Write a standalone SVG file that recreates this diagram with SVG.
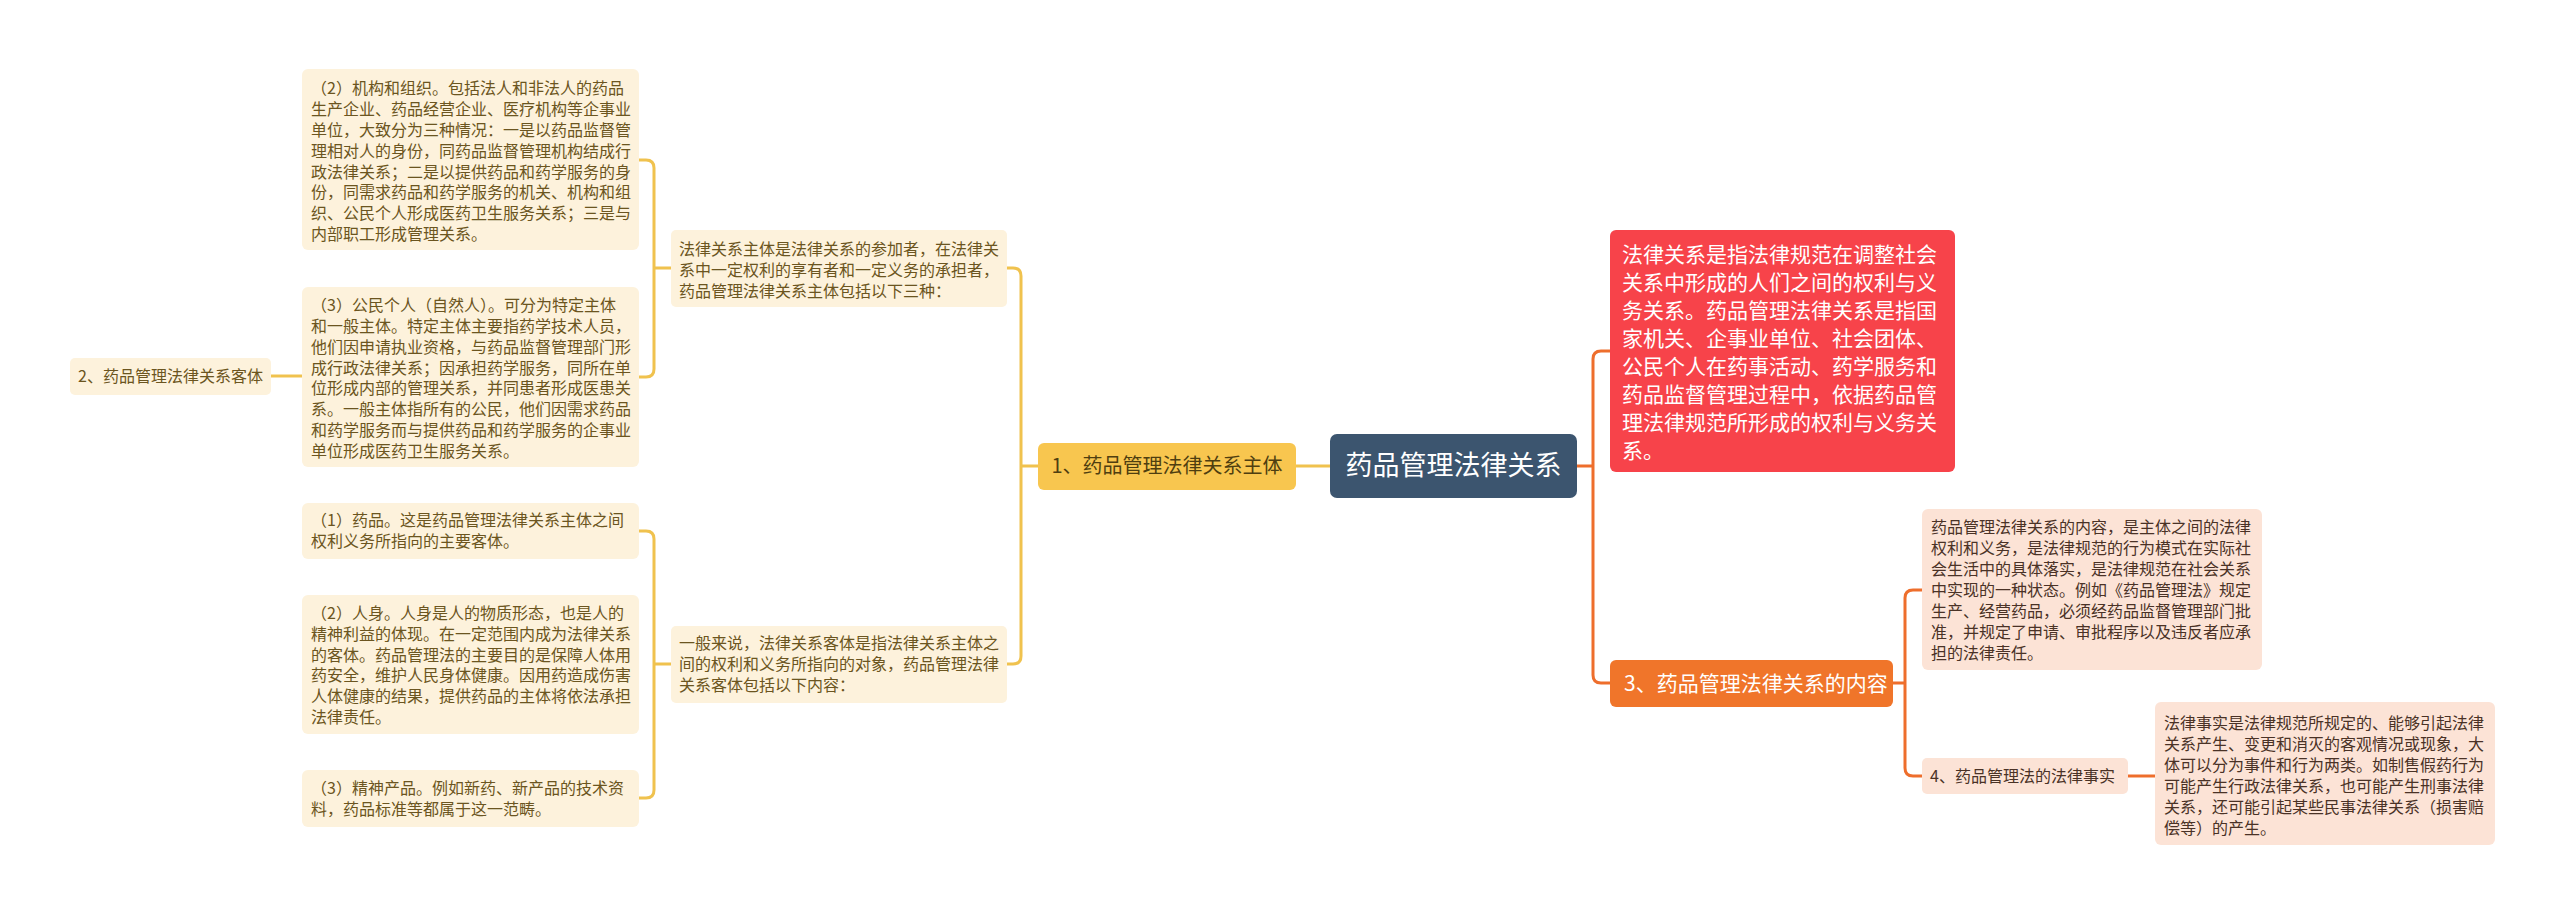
<svg xmlns="http://www.w3.org/2000/svg" width="2560" height="911" viewBox="0 0 2560 911">
<style>
text{font-family:"Noto Sans CJK SC","Noto Sans",sans-serif;}
.leaf{fill:#fdf2dc;}
.lt{font-size:16px;fill:#6b5520;}
.pk{fill:#fce3d6;}
.pt{font-size:16px;fill:#4a3226;}
.cy{fill:none;stroke:#f0c24e;stroke-width:3;}
.co{fill:none;stroke:#ee6e2c;stroke-width:3;}
</style>
<rect width="2560" height="911" fill="#ffffff"/>
<g id="connectors">
<path class="cy" d="M639,160 H646 Q654,160 654,168 V369 Q654,377 646,377 H639 M654,268 H671"/>
<path class="cy" d="M639,531 H646 Q654,531 654,539 V790 Q654,798 646,798 H639 M654,664 H671"/>
<path class="cy" d="M1007,268 H1013 Q1021,268 1021,276 V656 Q1021,664 1013,664 H1007 M1021,466 H1038"/>
<path class="cy" d="M1296,466 H1330"/>
<path class="cy" d="M271,376 H302"/>
<path class="co" d="M1577,466 H1593 M1610,351 H1601 Q1593,351 1593,359 V675 Q1593,683 1601,683 H1610"/>
<path class="co" d="M1893,683 H1905 M1922,590 H1913 Q1905,590 1905,598 V768 Q1905,776 1913,776 H1922"/>
<path class="co" d="M2128,776 H2155"/>
</g>
<g id="root">
<rect x="1330" y="434" width="247" height="64" rx="7" fill="#3c556f"/>
<text x="1453.5" y="475" font-size="27" fill="#ffffff" text-anchor="middle">药品管理法律关系</text>
</g>
<g id="n1">
<rect x="1038" y="443" width="258" height="47" rx="6" fill="#f8c64f"/>
<text x="1167" y="473" font-size="20" fill="#4f3e10" text-anchor="middle">1、药品管理法律关系主体</text>
</g>
<g id="n2">
<rect x="70" y="358" width="201" height="37" rx="5" class="leaf"/>
<text x="170.5" y="382" class="lt" text-anchor="middle">2、药品管理法律关系客体</text>
</g>
<g id="subject">
<rect x="671" y="230" width="336" height="77" rx="5" class="leaf"/>
<text class="lt" x="679"><tspan y="255">法律关系主体是法律关系的参加者，在法律关</tspan><tspan x="679" y="276">系中一定权利的享有者和一定义务的承担者，</tspan><tspan x="679" y="297">药品管理法律关系主体包括以下三种：</tspan></text>
</g>
<g id="s2">
<rect x="302" y="69" width="337" height="181" rx="6" class="leaf"/>
<text class="lt" x="311"><tspan y="94">（2）机构和组织。包括法人和非法人的药品</tspan><tspan x="311" y="115">生产企业、药品经营企业、医疗机构等企事业</tspan><tspan x="311" y="136">单位，大致分为三种情况：一是以药品监督管</tspan><tspan x="311" y="157">理相对人的身份，同药品监督管理机构结成行</tspan><tspan x="311" y="178">政法律关系；二是以提供药品和药学服务的身</tspan><tspan x="311" y="198">份，同需求药品和药学服务的机关、机构和组</tspan><tspan x="311" y="219">织、公民个人形成医药卫生服务关系；三是与</tspan><tspan x="311" y="240">内部职工形成管理关系。</tspan></text>
</g>
<g id="s3">
<rect x="302" y="287" width="337" height="180" rx="6" class="leaf"/>
<text class="lt" x="311"><tspan y="311">（3）公民个人（自然人）。可分为特定主体</tspan><tspan x="311" y="332">和一般主体。特定主体主要指药学技术人员，</tspan><tspan x="311" y="353">他们因申请执业资格，与药品监督管理部门形</tspan><tspan x="311" y="374">成行政法律关系；因承担药学服务，同所在单</tspan><tspan x="311" y="394">位形成内部的管理关系，并同患者形成医患关</tspan><tspan x="311" y="415">系。一般主体指所有的公民，他们因需求药品</tspan><tspan x="311" y="436">和药学服务而与提供药品和药学服务的企事业</tspan><tspan x="311" y="457">单位形成医药卫生服务关系。</tspan></text>
</g>
<g id="object">
<rect x="671" y="626" width="336" height="77" rx="5" class="leaf"/>
<text class="lt" x="679"><tspan y="649">一般来说，法律关系客体是指法律关系主体之</tspan><tspan x="679" y="670">间的权利和义务所指向的对象，药品管理法律</tspan><tspan x="679" y="691">关系客体包括以下内容：</tspan></text>
</g>
<g id="o1">
<rect x="302" y="503" width="337" height="56" rx="6" class="leaf"/>
<text class="lt" x="311"><tspan y="526">（1）药品。这是药品管理法律关系主体之间</tspan><tspan x="311" y="547">权利义务所指向的主要客体。</tspan></text>
</g>
<g id="o2">
<rect x="302" y="595" width="337" height="139" rx="6" class="leaf"/>
<text class="lt" x="311"><tspan y="619">（2）人身。人身是人的物质形态，也是人的</tspan><tspan x="311" y="640">精神利益的体现。在一定范围内成为法律关系</tspan><tspan x="311" y="661">的客体。药品管理法的主要目的是保障人体用</tspan><tspan x="311" y="681">药安全，维护人民身体健康。因用药造成伤害</tspan><tspan x="311" y="702">人体健康的结果，提供药品的主体将依法承担</tspan><tspan x="311" y="723">法律责任。</tspan></text>
</g>
<g id="o3">
<rect x="302" y="770" width="337" height="57" rx="6" class="leaf"/>
<text class="lt" x="311"><tspan y="794">（3）精神产品。例如新药、新产品的技术资</tspan><tspan x="311" y="815">料，药品标准等都属于这一范畴。</tspan></text>
</g>
<g id="def">
<rect x="1610" y="230" width="345" height="242" rx="6" fill="#f7434a"/>
<text x="1622" font-size="21" fill="#ffffff"><tspan y="262">法律关系是指法律规范在调整社会</tspan><tspan x="1622" y="290">关系中形成的人们之间的权利与义</tspan><tspan x="1622" y="318">务关系。药品管理法律关系是指国</tspan><tspan x="1622" y="346">家机关、企事业单位、社会团体、</tspan><tspan x="1622" y="374">公民个人在药事活动、药学服务和</tspan><tspan x="1622" y="402">药品监督管理过程中，依据药品管</tspan><tspan x="1622" y="430">理法律规范所形成的权利与义务关</tspan><tspan x="1622" y="458">系。</tspan></text>
</g>
<g id="n3">
<rect x="1610" y="660" width="283" height="47" rx="6" fill="#f0752a"/>
<text x="1624" y="691" font-size="21" fill="#ffffff">3、药品管理法律关系的内容</text>
</g>
<g id="content">
<rect x="1922" y="509" width="340" height="161" rx="6" class="pk"/>
<text class="pt" x="1931"><tspan y="533">药品管理法律关系的内容，是主体之间的法律</tspan><tspan x="1931" y="554">权利和义务，是法律规范的行为模式在实际社</tspan><tspan x="1931" y="575">会生活中的具体落实，是法律规范在社会关系</tspan><tspan x="1931" y="596">中实现的一种状态。例如《药品管理法》规定</tspan><tspan x="1931" y="617">生产、经营药品，必须经药品监督管理部门批</tspan><tspan x="1931" y="638">准，并规定了申请、审批程序以及违反者应承</tspan><tspan x="1931" y="659">担的法律责任。</tspan></text>
</g>
<g id="n4">
<rect x="1922" y="758" width="206" height="36" rx="5" class="pk"/>
<text class="pt" x="1930" y="782">4、药品管理法的法律事实</text>
</g>
<g id="fact">
<rect x="2155" y="702" width="340" height="143" rx="6" class="pk"/>
<text class="pt" x="2164"><tspan y="729">法律事实是法律规范所规定的、能够引起法律</tspan><tspan x="2164" y="750">关系产生、变更和消灭的客观情况或现象，大</tspan><tspan x="2164" y="771">体可以分为事件和行为两类。如制售假药行为</tspan><tspan x="2164" y="792">可能产生行政法律关系，也可能产生刑事法律</tspan><tspan x="2164" y="813">关系，还可能引起某些民事法律关系（损害赔</tspan><tspan x="2164" y="834">偿等）的产生。</tspan></text>
</g>
</svg>
